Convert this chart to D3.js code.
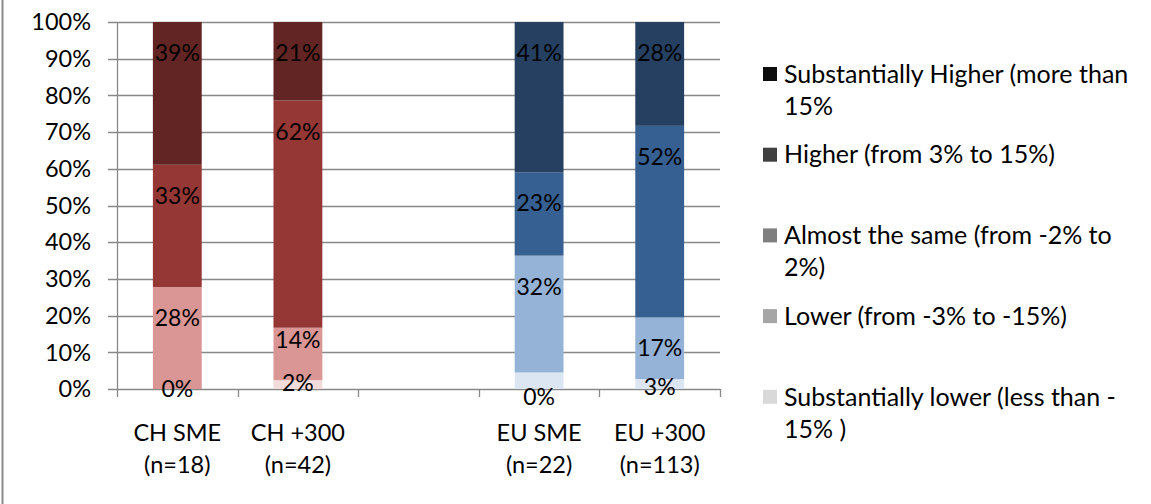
<!DOCTYPE html>
<html>
<head>
<meta charset="utf-8">
<script src="https://cdn.jsdelivr.net/npm/d3@7"></script>
<style>
  html, body { margin: 0; padding: 0; background: #fff; }
  svg { display: block; font-family: Lato, "Open Sans", sans-serif; }
</style>
</head>
<body>
<svg id="chart" width="1151" height="504"></svg>
<script>
// ---- data ----
const categories = ["CH SME", "CH +300", "", "EU SME", "EU +300"];
const sampleSizes = ["(n=18)", "(n=42)", "", "(n=22)", "(n=113)"];
const groups = ["CH", "CH", "", "EU", "EU"];
// stacked bottom -> top (percent of respondents)
const substantiallyLower = [0, 2.4, 0, 4.5, 2.7];
const lower = [27.8, 14.3, 0, 31.8, 16.8];
const higher = [33.3, 61.9, 0, 22.7, 52.2];
const substantiallyHigher = [38.9, 21.4, 0, 40.9, 28.3];
const substantiallyLowerShown = ["0%", "2%", "", "0%", "3%"];
const yTicks = [0, 10, 20, 30, 40, 50, 60, 70, 80, 90, 100];
const legendNames = [
  ["Substantially Higher (more than", "15%"],
  ["Higher (from 3% to 15%)"],
  ["Almost the same (from -2% to", "2%)"],
  ["Lower (from -3% to -15%)"],
  ["Substantially lower (less than -", "15% )"]
];

// ---- styles ----
const palette = {
  CH: ["#F2DCDB", "#D99694", "#953735", "#632523"],
  EU: ["#DCE6F2", "#95B3D7", "#376092", "#254061"]
};
const legendColors = ["#0D0D0D", "#404040", "#7F7F7F", "#A6A6A6", "#D9D9D9"];
const gridColor = "#888888";
const axisFont = 23.5;
const valueFont = 23;
const legendFont = 25;

const svg = d3.select("#chart");

// frame line on the left
svg.append("line").attr("x1", 2.5).attr("x2", 2.5).attr("y1", 0).attr("y2", 504)
  .attr("stroke", "#8A8A8A").attr("stroke-width", 2);

const plot = { left: 117, right: 720, top: 22, bottom: 389 };

const x = d3.scaleBand().domain(d3.range(categories.length))
  .range([plot.left, plot.right]).paddingInner(0).paddingOuter(0);
const y = d3.scaleLinear().domain([0, 100]).range([plot.bottom, plot.top]);

// gridlines + y ticks
const g = svg.append("g");
g.selectAll("line.grid").data(yTicks).join("line")
  .attr("x1", plot.left - 9).attr("x2", plot.right)
  .attr("y1", d => Math.round(y(d)) + 0.5).attr("y2", d => Math.round(y(d)) + 0.5)
  .attr("stroke", gridColor).attr("stroke-width", 1.3);

// y axis line
g.append("line").attr("x1", plot.left + 0.5).attr("x2", plot.left + 0.5)
  .attr("y1", y(100)).attr("y2", y(0)).attr("stroke", gridColor).attr("stroke-width", 1.3);

// x axis ticks
const xTickPos = d3.range(categories.length + 1).map(i => i === categories.length ? plot.right : x(i));
g.selectAll("line.xt").data(xTickPos).join("line")
  .attr("x1", d => Math.round(d) + 0.5).attr("x2", d => Math.round(d) + 0.5)
  .attr("y1", y(0)).attr("y2", y(0) + 8)
  .attr("stroke", gridColor).attr("stroke-width", 1.3);

// y tick labels
g.selectAll("text.yl").data(yTicks).join("text")
  .attr("x", 91).attr("y", d => y(d)).attr("dy", "0.35em")
  .attr("text-anchor", "end").attr("font-size", axisFont).attr("fill", "#000")
  .text(d => d + "%");

// stacked data
const seriesArrays = [substantiallyLower, lower, higher, substantiallyHigher];
const rows = categories.map((c, i) => {
  const r = { i };
  seriesArrays.forEach((arr, k) => r["s" + k] = arr[i]);
  return r;
});
const keys = ["s0", "s1", "s2", "s3"];
const stack = d3.stack().keys(keys).offset(d3.stackOffsetExpand);
const stacked = stack(rows);

const barW = x.bandwidth() * 0.405;
const bars = svg.append("g");
stacked.forEach((layer, k) => {
  bars.selectAll(null).data(layer.filter(d => categories[d.data.i] !== "")).join("rect")
    .attr("x", d => x(d.data.i) + (x.bandwidth() - barW) / 2)
    .attr("width", barW)
    .attr("y", d => y(d[1] * 100))
    .attr("height", d => y(d[0] * 100) - y(d[1] * 100))
    .attr("fill", d => palette[groups[d.data.i]][k]);
});

// value labels
const bottomNudge = [0, -2, 0, 16, 3];
const labels = svg.append("g");
stacked.forEach((layer, k) => {
  labels.selectAll(null).data(layer.filter(d => categories[d.data.i] !== "")).join("text")
    .attr("x", d => x(d.data.i) + x.bandwidth() / 2)
    .attr("y", d => {
      const top = y(d[1] * 100), bot = y(d[0] * 100);
      if (k === 0) return (top + bot) / 2 + bottomNudge[d.data.i];
      return top + ((bot - top) > 60 ? 31 : 12);
    })
    .attr("dy", "0.35em")
    .attr("text-anchor", "middle").attr("font-size", valueFont).attr("fill", "#000")
    .text(d => k === 0 ? substantiallyLowerShown[d.data.i] : Math.round(seriesArrays[k][d.data.i]) + "%");
});

// category labels
const cat = svg.append("g");
categories.forEach((c, i) => {
  if (!c) return;
  const cx = x(i) + x.bandwidth() / 2;
  cat.append("text").attr("x", cx).attr("y", 433).attr("dy", "0.35em")
    .attr("text-anchor", "middle").attr("font-size", axisFont).text(c);
  cat.append("text").attr("x", cx).attr("y", 465).attr("dy", "0.35em")
    .attr("text-anchor", "middle").attr("font-size", axisFont).text(sampleSizes[i]);
});

// legend
const leg = svg.append("g");
legendNames.forEach((lines, i) => {
  const cy = 74 + i * 80.7;
  leg.append("rect").attr("x", 763).attr("y", cy - 7).attr("width", 14).attr("height", 14)
    .attr("fill", legendColors[i]);
  lines.forEach((t, j) => {
    leg.append("text").attr("x", 784).attr("y", cy + j * 32).attr("dy", "0.35em")
      .attr("font-size", legendFont).attr("fill", "#000").text(t);
  });
});
</script>
</body>
</html>
